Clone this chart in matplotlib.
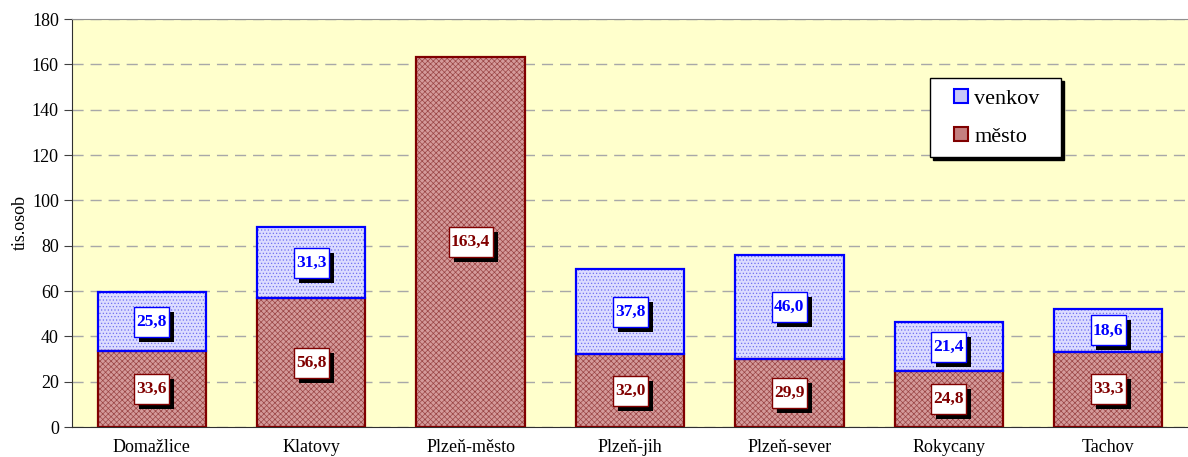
import numpy as np
import matplotlib.pyplot as plt
import matplotlib.transforms as mtransforms
from matplotlib.patches import Rectangle
from matplotlib.lines import Line2D

plt.rcParams['font.family'] = ['Liberation Serif', 'DejaVu Serif']
plt.rcParams['hatch.linewidth'] = 0.5

#data
districts = ['Domažlice', 'Klatovy', 'Plzeň-město', 'Plzeň-jih', 'Plzeň-sever', 'Rokycany', 'Tachov']
mesto = [33.6, 56.8, 163.4, 32.0, 29.9, 24.8, 33.3]
venkov = [25.8, 31.3, 0.0, 37.8, 46.0, 21.4, 18.6]

def fmt(v):
    return ('%.1f' % v).replace('.', ',')

fig = plt.figure(figsize=(11.88, 4.57), dpi=100)
ax = fig.add_axes([72/1188, 30/457, 1116/1188, 408/457])
ax.set_facecolor('#FFFFCC')

x = np.arange(len(districts))
w = 0.68

#mesto bars (hatched fill, then outline)
ax.bar(x, mesto, w, color='#D49A9A', edgecolor='#9A4545', hatch='xxxxxx', lw=0, zorder=2)
ax.bar(x, mesto, w, fill=False, edgecolor='#800000', lw=1.6, zorder=3)
#venkov bars
vx = [i for i in x if venkov[i] > 0]
vv = [venkov[i] for i in vx]
vb = [mesto[i] for i in vx]
ax.bar(vx, vv, w, bottom=vb, color='#DCDCFF', edgecolor='#7070F0', hatch='.....', lw=0, zorder=2)
ax.bar(vx, vv, w, bottom=vb, fill=False, edgecolor='#0000FF', lw=1.6, zorder=3)

#value labels: white box with black shadow, sized in pixels
def label(xp, yp, txt, col):
    bw = (9 * len(txt) - 1) / 100.0
    bh = 0.30
    tr = fig.dpi_scale_trans + mtransforms.ScaledTranslation(xp, yp, ax.transData)
    ax.add_patch(Rectangle((-bw/2 + 0.05, -bh/2 - 0.05), bw, bh, transform=tr,
                           fc='black', ec='none', zorder=4))
    ax.add_patch(Rectangle((-bw/2, -bh/2), bw, bh, transform=tr,
                           fc='white', ec=col, lw=1, zorder=5))
    ax.text(xp, yp, txt, ha='center', va='center', fontsize=12.5, fontweight='bold',
            color=col, zorder=6)

for i in range(len(districts)):
    label(x[i], mesto[i] / 2, fmt(mesto[i]), '#800000')
    if venkov[i] > 0:
        label(x[i], mesto[i] + venkov[i] / 2, fmt(venkov[i]), '#0000FF')

ax.set_xlim(-0.5, len(districts) - 0.5)
ax.set_ylim(0, 180)
ax.set_yticks(np.arange(0, 181, 20))
ax.set_xticks(x)
ax.set_xticklabels(districts, fontsize=13)
ax.tick_params(axis='y', labelsize=13, direction='out', length=6, color='#404040')
ax.tick_params(axis='x', length=0, pad=9)
ax.yaxis.grid(True, color='#A8A8A8', ls=(0, (8, 5)), lw=1, zorder=0)
ax.set_axisbelow(True)
ax.set_ylabel('tis.osob', fontsize=13, labelpad=2)
ax.spines['right'].set_visible(False)
ax.spines['top'].set_color('#909090')
ax.spines['left'].set_color('#303030')
ax.spines['bottom'].set_color('#303030')

#legend
h1 = Line2D([], [], ls='none', marker='s', markersize=10, markerfacecolor='#C8C8F8',
            markeredgecolor='#0000FF', markeredgewidth=1.5)
h2 = Line2D([], [], ls='none', marker='s', markersize=10, markerfacecolor='#C48080',
            markeredgecolor='#800000', markeredgewidth=1.5)
leg = ax.legend([h1, h2], ['venkov  ', 'město'], loc='upper left', bbox_to_anchor=(858/1116, 1 - 59/408),
                fontsize=16, frameon=True, fancybox=False, shadow={'color': 'black', 'alpha': 1},
                edgecolor='black', framealpha=1, borderpad=0.45, borderaxespad=0, labelspacing=0.8,
                handlelength=1.9, handletextpad=-0.35)
leg.get_frame().set_linewidth(1)

fig.savefig('out.png', dpi=100)
